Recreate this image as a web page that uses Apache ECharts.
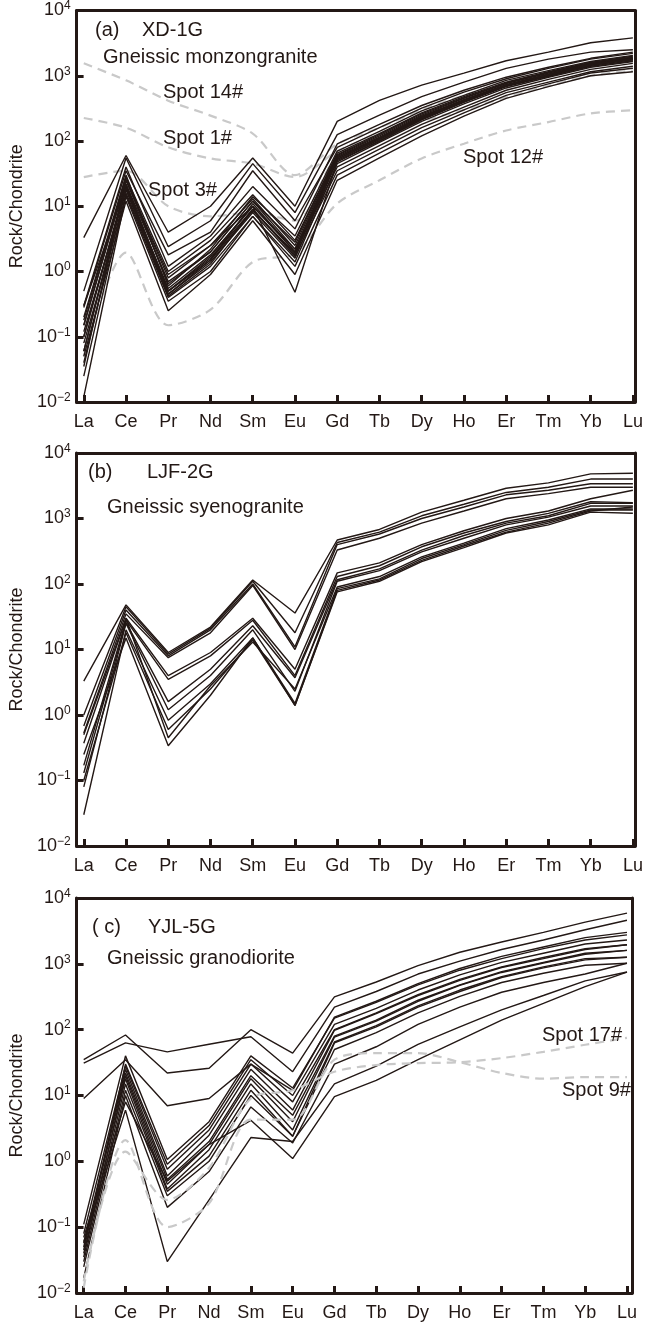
<!DOCTYPE html>
<html>
<head>
<meta charset="utf-8">
<script src="https://cdn.jsdelivr.net/npm/echarts@6/dist/echarts.min.js"></script>
<style>
  html, body { margin: 0; padding: 0; background: #fff; }
  #chart { width: 646px; height: 1328px; }
</style>
</head>
<body>
<div id="chart"></div>
<script>
// REE order on the x axis
const elements = ["La", "Ce", "Pr", "Nd", "Sm", "Eu", "Gd", "Tb", "Dy", "Ho", "Er", "Tm", "Yb", "Lu"];
const yTicks = [0.01, 0.1, 1, 10, 100, 1000, 10000];
const yExps = ["−2", "−1", "0", "1", "2", "3", "4"];

// (a) XD-1G, black sample lines
const xdSamples = [
  [3.3, 60, 4.0, 10, 55, 10, 200, 420, 720, 1100, 1700, 2300, 3200, 3800],
  [0.5, 55, 2.4, 6, 45, 8, 125, 250, 480, 800, 1300, 1800, 2300, 2500],
  [0.28, 35, 1.8, 4, 35, 6, 80, 160, 320, 560, 900, 1300, 1800, 2200],
  [0.18, 28, 1.0, 3, 15, 3, 65, 130, 270, 480, 800, 1150, 1600, 2000],
  [0.15, 25, 0.9, 2.5, 13, 2.5, 60, 120, 250, 450, 760, 1100, 1550, 1900],
  [0.1, 22, 0.7, 2, 12, 2.2, 58, 115, 240, 430, 730, 1050, 1500, 1850],
  [0.06, 20, 0.55, 1.8, 10, 2, 55, 110, 230, 420, 720, 1050, 1500, 1800],
  [0.04, 18, 0.5, 1.6, 9, 1.8, 52, 105, 220, 400, 700, 1000, 1450, 1750],
  [0.025, 16, 0.45, 1.4, 8, 1.6, 50, 100, 210, 390, 680, 980, 1400, 1700],
  [0.012, 15, 0.4, 1.2, 7, 1.4, 45, 95, 200, 370, 650, 950, 1350, 1650],
  [0.2, 30, 0.6, 2.2, 14, 3.5, 70, 140, 290, 500, 850, 1200, 1650, 2050],
  [0.3, 20, 0.5, 1.5, 11, 2, 40, 85, 180, 330, 600, 880, 1250, 1550],
  [0.12, 18, 0.42, 1.3, 9, 1.7, 35, 75, 160, 300, 550, 800, 1150, 1400],
  [0.08, 14, 0.35, 1.0, 7, 1.2, 30, 65, 140, 270, 500, 750, 1100, 1300],
  [0.05, 12, 0.25, 0.9, 6, 0.9, 25, 55, 120, 240, 450, 680, 1000, 1150],
  [0.035, 25, 0.8, 2.5, 10, 0.48, 48, 100, 215, 400, 700, 1000, 1450, 1800],
  [0.3, 40, 1.2, 3.5, 20, 4.5, 90, 180, 350, 600, 950, 1350, 1850, 2300],
  [0.15, 26, 0.65, 2, 12, 2.8, 62, 125, 260, 460, 780, 1120, 1580, 1950],
  [0.06, 22, 0.5, 1.7, 10, 2.2, 56, 112, 235, 425, 725, 1060, 1500, 1820],
  [0.1, 19, 0.45, 1.5, 8.5, 1.9, 53, 107, 225, 410, 710, 1030, 1480, 1780]
];
// (a) grey dashed spots
const xdSpot14 = [1550, 850, 415, 245, 130, 30, 90, 160, 300, 500, 800, 1100, 1500, 1800];
const xdSpot1 = [225, 160, 80, 54, 45, 28, 70, 130, 250, 420, 700, 1000, 1400, 1700];
const xdSpot3 = [28, 35, 10, 7, 8, 6, 60, 110, 200, 300, 470, 700, 1000, 1200];
const xdSpot12 = [0.05, 1.95, 0.15, 0.26, 1.4, 1.9, 11, 25, 54, 91, 145, 195, 265, 295];

// (b) LJF-2G
const ljfSamples = [
  [3.3, 48, 9, 22, 115, 36, 470, 680, 1250, 1900, 2900, 3500, 4800, 4900],
  [1.0, 45, 8.5, 21, 110, 18, 430, 620, 1100, 1650, 2500, 3000, 4000, 4000],
  [0.68, 40, 8, 20, 100, 11, 400, 580, 1000, 1500, 2300, 2700, 3400, 3400],
  [0.53, 35, 7.5, 18, 95, 10, 330, 500, 850, 1300, 2000, 2400, 3000, 3000],
  [0.37, 30, 4, 9, 30, 5, 148, 210, 400, 650, 1000, 1300, 2000, 2700],
  [0.17, 28, 3.5, 8, 28, 4, 130, 190, 370, 600, 900, 1200, 1800, 1750],
  [0.13, 26, 1.6, 5, 23, 3.7, 116, 170, 330, 550, 850, 1100, 1700, 1700],
  [0.08, 25, 1.2, 4, 20, 2.3, 110, 160, 310, 500, 800, 1050, 1550, 1550],
  [0.03, 20, 0.83, 3, 15, 1.4, 80, 115, 230, 380, 620, 850, 1300, 1500],
  [0.1, 18, 0.6, 2.5, 14, 1.4, 76, 110, 220, 360, 600, 800, 1250, 1200],
  [0.5, 30, 0.45, 2.8, 13, 2.5, 90, 130, 260, 420, 700, 950, 1400, 1400],
  [0.25, 15, 0.34, 2, 15, 1.5, 85, 120, 245, 400, 660, 900, 1350, 1350]
];

// (c) YJL-5G
const yjlSamples = [
  [35, 83, 22, 26, 100, 44, 315, 530, 940, 1500, 2150, 3000, 4300, 5900],
  [31, 63, 46, 60, 78, 23, 220, 380, 700, 1100, 1650, 2300, 3300, 4600],
  [9, 35, 7, 9, 30, 12, 155, 270, 500, 850, 1300, 1800, 2500, 3000],
  [0.11, 40, 1.07, 4, 40, 13, 150, 260, 480, 800, 1200, 1700, 2300, 2750],
  [0.08, 28, 0.76, 3, 30, 8, 100, 180, 340, 580, 900, 1250, 1700, 1950],
  [0.057, 25, 0.6, 2.5, 25, 6, 98, 175, 330, 560, 880, 1200, 1650, 1950],
  [0.05, 22, 0.53, 2, 20, 5, 80, 140, 280, 480, 760, 1050, 1450, 1600],
  [0.035, 20, 0.45, 1.8, 18, 4, 77, 135, 270, 470, 740, 1030, 1400, 1600],
  [0.04, 18, 0.38, 1.5, 15, 3, 65, 115, 230, 400, 640, 900, 1200, 1260],
  [0.03, 15, 0.35, 1.2, 12, 2.4, 63, 110, 220, 380, 620, 870, 1150, 1260],
  [0.025, 12, 0.3, 1.0, 10, 2.4, 50, 90, 180, 320, 520, 720, 950, 1020],
  [0.017, 10, 0.2, 0.7, 6.7, 1.9, 30, 55, 120, 220, 370, 520, 700, 1020],
  [0.06, 6, 0.03, 0.26, 2.3, 2.0, 15, 28, 60, 110, 200, 330, 550, 750],
  [0.07, 8, 0.5, 1.8, 4.2, 1.1, 9.6, 17, 35, 70, 140, 250, 450, 750],
  [0.045, 30, 0.9, 3.5, 35, 10, 120, 210, 400, 680, 1050, 1450, 2000, 2300]
];
const yjlSpot9 = [0.012, 2.1, 0.1, 0.23, 4.3, 4.3, 35, 44, 44, 32, 22, 18, 19, 19];
const yjlSpot17 = [0.015, 1.4, 0.26, 0.8, 9, 12, 23, 29, 31, 32, 37, 46, 59, 75];

const ink = "#231815";
const grey = "#c9c9c9";
const font = "'Liberation Sans', Arial, sans-serif";

const grids = [
  { left: 72, top: 10, right: 11, height: 392, xMax: 13.05 },
  { left: 72, top: 453, right: 11, height: 393, xMax: 13.05 },
  { left: 72, top: 898, right: 14, height: 395, xMax: 13.12 }
];

const xAxis = [], yAxis = [];
grids.forEach((g, gi) => {
  xAxis.push({
    type: "value", gridIndex: gi, min: -0.17, max: g.xMax,
    axisLine: { onZero: false, lineStyle: { color: ink, width: 3 } },
    axisTick: { inside: true, length: 7, lineStyle: { color: ink, width: 3 }, customValues: elements.map((e, i) => i) },
    axisLabel: { customValues: elements.map((e, i) => i), formatter: v => elements[v], color: ink, fontSize: 18, fontFamily: font, margin: 11 },
    splitLine: { show: false }
  });
  xAxis.push({
    type: "value", gridIndex: gi, position: "top", min: 0, max: 1,
    axisLine: { onZero: false, lineStyle: { color: ink, width: 3 } },
    axisTick: { show: false }, axisLabel: { show: false }, splitLine: { show: false }
  });
  yAxis.push({
    type: "log", logBase: 10, gridIndex: gi, min: 0.01, max: 10000,
    name: "Rock/Chondrite", nameLocation: "middle", nameGap: 50,
    nameTextStyle: { color: ink, fontSize: 18, fontFamily: font },
    axisLine: { onZero: false, lineStyle: { color: ink, width: 3 } },
    axisTick: { inside: true, length: 7, lineStyle: { color: ink, width: 3 }, customValues: yTicks },
    axisLabel: {
      customValues: yTicks, margin: 6,
      formatter: v => "{b|10}{s|" + yExps[yTicks.indexOf(v)] + "}",
      rich: {
        b: { fontSize: 18, color: ink, fontFamily: font },
        s: { fontSize: 12, color: ink, fontFamily: font, verticalAlign: "top", padding: [0, 0, 9, 0] }
      }
    },
    splitLine: { show: false }
  });
  yAxis.push({
    type: "value", gridIndex: gi, position: "right", min: 0, max: 1,
    axisLine: { onZero: false, lineStyle: { color: ink, width: 3 } },
    axisTick: { show: false }, axisLabel: { show: false }, splitLine: { show: false }
  });
});

const series = [];
function addLines(gi, list, dashed, z) {
  list.forEach(vals => {
    series.push({
      type: "line", xAxisIndex: gi * 2, yAxisIndex: gi * 2,
      data: vals.map((v, i) => [i, v]),
      symbol: "none", silent: true,
      smooth: dashed ? 0.3 : false,
      lineStyle: dashed
        ? { color: grey, width: 2.2, type: [9, 6] }
        : { color: ink, width: 1.4 },
      z: z
    });
  });
}
// grey spots sit under the black bundle in (a), over it in (c)
addLines(0, [xdSpot14, xdSpot1, xdSpot3, xdSpot12], true, 1);
addLines(0, xdSamples, false, 2);
addLines(1, ljfSamples, false, 2);
addLines(2, yjlSamples, false, 2);
addLines(2, [yjlSpot9, yjlSpot17], true, 3);

function txt(text, x, y) {
  return { type: "text", x, y, z: 10, style: { text, fill: ink, fontSize: 20, fontFamily: font, verticalAlign: "middle" } };
}

const chart = echarts.init(document.getElementById("chart"));
chart.setOption({
  animation: false,
  grid: grids.map(g => ({ left: g.left, top: g.top, right: g.right, height: g.height })),
  xAxis, yAxis, series,
  graphic: [
    txt("(a)", 95, 30), txt("XD-1G", 142, 30), txt("Gneissic monzongranite", 103, 57),
    txt("Spot 14#", 163, 92), txt("Spot 1#", 163, 138), txt("Spot 3#", 148, 190), txt("Spot 12#", 463, 157),
    txt("(b)", 88, 472), txt("LJF-2G", 147, 472), txt("Gneissic syenogranite", 107, 507),
    txt("( c)", 92, 927), txt("YJL-5G", 148, 927), txt("Gneissic granodiorite", 107, 958),
    txt("Spot 17#", 542, 1035), txt("Spot 9#", 562, 1090)
  ]
});
</script>
</body>
</html>
